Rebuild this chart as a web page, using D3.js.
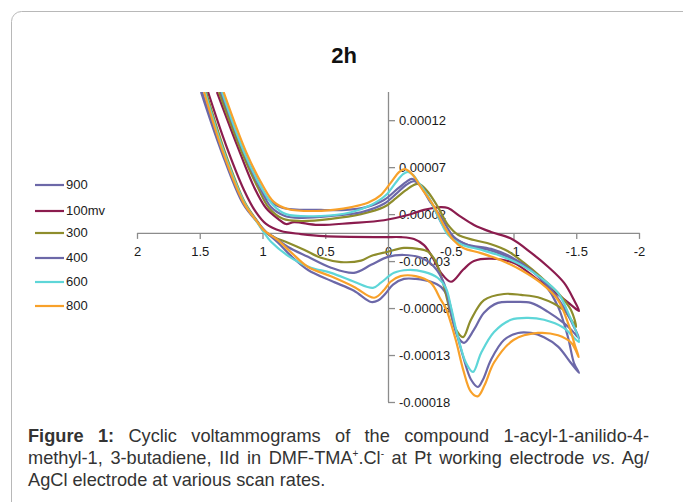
<!DOCTYPE html>
<html>
<head>
<meta charset="utf-8">
<script src="https://cdn.jsdelivr.net/npm/d3@7"></script>
<style>
body { margin: 0; background: #fff; }
#wrap { position: relative; width: 683px; height: 502px; overflow: hidden; }
#chart { position: absolute; left: 0; top: 0; }
#caption {
	position: absolute; left: 28px; top: 426px; width: 621px;
	font-family: "Liberation Sans", Arial, sans-serif; font-size: 18.2px; line-height: 21.8px;
	color: #333;
}
#caption div { white-space: nowrap; }
#caption .just { text-align: justify; text-align-last: justify; }
#caption sup { font-size: 10px; line-height: 0; }
</style>
</head>
<body>
<div id="wrap">
<svg id="chart" width="683" height="502"></svg>
<div id="caption">
	<div class="just"><b>Figure 1:</b> Cyclic voltammograms of the compound 1-acyl-1-anilido-4-</div>
	<div class="just">methyl-1, 3-butadiene, IId in DMF-TMA<sup>+</sup>.Cl<sup>-</sup> at Pt working electrode <i>vs</i>. Ag/</div>
	<div>AgCl electrode at various scan rates.</div>
</div>
</div>
<script>
// potential (V) vs current (in units of 1e-5 A), each loop traced forward then back
let s900 = [[1.339,15],[1.163,9.05],[1.028,5.3],[0.948,3.5],[0.837,2.65],[0.534,2.45],[0.335,2.45],[0.175,2.75],[0.032,3.5],[-0.064,4.55],[-0.143,5.4],[-0.191,5.75],[-0.247,5.2],[-0.327,3.5],[-0.422,1.7],[-0.526,-0.45],[-0.637,-1.3],[-0.797,-1.8],[-0.956,-2.55],[-1.116,-3.65],[-1.243,-5.35],[-1.355,-7.85],[-1.434,-11.1],[-1.482,-13.85],[-1.522,-14.9],
	[-1.458,-13.85],[-1.355,-12.1],[-1.243,-11.1],[-1.139,-10.65],[-1.036,-10.65],[-0.924,-11.4],[-0.821,-13.5],[-0.757,-15.6],[-0.717,-16.4],[-0.661,-15.6],[-0.606,-13.5],[-0.526,-9.6],[-0.478,-6.9],[-0.422,-5.75],[-0.343,-5.2],[-0.223,-4.9],[-0.127,-4.9],[-0.04,-5.5],[0.016,-6.4],[0.08,-7.2],[0.135,-7.35],[0.271,-6.15],[0.454,-5.1],[0.637,-3.95],[0.773,-2.45],[0.876,-1.05],[0.964,0],[1.028,0.95],[1.155,3.1],[1.331,8.8],[1.49,15]];
let s100 = [[1.363,15],[1.203,9.35],[1.068,4.9],[0.972,2.65],[0.876,1.5],[0.813,0.95],[0.749,1.15],[0.558,0.85],[0.295,1.05],[0.032,1.35],[-0.159,1.9],[-0.287,2.45],[-0.422,2.75],[-0.478,2.65],[-0.582,1.7],[-0.685,0.85],[-0.821,0.1],[-0.98,-0.6],[-1.139,-2.1],[-1.275,-3.6],[-1.402,-5.3],[-1.482,-7.15],[-1.522,-8.3],
	[-1.458,-7.65],[-1.378,-6.8],[-1.195,-5.0],[-1.004,-3.2],[-0.821,-2.75],[-0.685,-3.0],[-0.60,-3.9],[-0.502,-5.2],[-0.422,-4.25],[-0.367,-2.9],[-0.287,-1.3],[-0.207,-0.65],[-0.104,-0.45],[0.032,-0.45],[0.51,-0.35],[0.693,-0.12],[0.853,0.2],[0.972,0.95],[1.052,2.2],[1.147,4.55],[1.291,9.35],[1.434,15]];
let s300 = [[1.347,15],[1.171,8.8],[1.036,4.8],[0.948,2.65],[0.837,1.5],[0.693,1.27],[0.454,1.5],[0.215,2.0],[0.032,2.75],[-0.064,3.7],[-0.143,4.55],[-0.223,5.2],[-0.263,5.1],[-0.319,4.35],[-0.398,2.75],[-0.478,0.85],[-0.558,-0.2],[-0.685,-0.75],[-0.821,-1.2],[-0.956,-1.95],[-1.084,-3.2],[-1.219,-4.7],[-1.355,-6.4],[-1.458,-8.2],[-1.498,-10.0],
	[-1.45,-9.05],[-1.40,-8.2],[-1.219,-6.95],[-1.06,-6.6],[-0.924,-6.5],[-0.765,-7.15],[-0.661,-9.25],[-0.598,-11.1],[-0.542,-10.3],[-0.486,-7.85],[-0.438,-5.3],[-0.382,-3.1],[-0.319,-2.0],[-0.239,-1.7],[-0.127,-1.6],[0,-2.0],[0.135,-2.45],[0.215,-2.95],[0.375,-3.1],[0.534,-2.65],[0.669,-1.8],[0.797,-1.05],[0.908,-0.45],[0.988,0.2],[1.036,1.15],[1.139,3.2],[1.299,8.6],[1.45,15]];
let s400 = [[1.331,15],[1.155,8.8],[1.02,4.8],[0.932,2.75],[0.821,1.8],[0.693,1.6],[0.454,1.8],[0.215,2.2],[0.032,3.1],[-0.064,4.15],[-0.143,5.1],[-0.207,5.5],[-0.263,5.0],[-0.343,3.3],[-0.422,1.15],[-0.502,-0.35],[-0.622,-1.2],[-0.821,-1.7],[-0.98,-2.55],[-1.139,-3.95],[-1.283,-5.75],[-1.402,-7.95],[-1.474,-9.8],[-1.522,-11.2],
	[-1.46,-10.3],[-1.402,-9.6],[-1.275,-8.4],[-1.139,-7.45],[-1.004,-7.35],[-0.876,-7.45],[-0.765,-8.5],[-0.685,-10.3],[-0.606,-11.7],[-0.558,-11.1],[-0.502,-8.5],[-0.446,-5.35],[-0.367,-3.6],[-0.263,-2.65],[-0.127,-2.35],[0,-2.55],[0.135,-3.4],[0.271,-4.25],[0.454,-3.7],[0.637,-2.55],[0.797,-1.5],[0.908,-0.45],[0.996,0.3],[1.044,1.25],[1.155,3.3],[1.323,8.8],[1.482,15]];
let s600 = [[1.323,15],[1.147,8.6],[1.012,4.9],[0.916,2.97],[0.813,2.0],[0.534,1.8],[0.295,2.2],[0.135,2.97],[0.016,4.03],[-0.064,5.4],[-0.12,6.25],[-0.16,6.5],[-0.20,6.15],[-0.247,5.3],[-0.327,3.7],[-0.406,1.6],[-0.478,-0.2],[-0.582,-1.2],[-0.741,-1.8],[-0.90,-2.45],[-1.06,-3.4],[-1.22,-4.8],[-1.355,-6.4],[-1.442,-8.7],[-1.522,-11.6],
	[-1.46,-10.85],[-1.40,-10.1],[-1.243,-9.25],[-1.116,-9.05],[-0.98,-9.25],[-0.845,-10.55],[-0.741,-12.8],[-0.677,-14.8],[-0.622,-13.85],[-0.558,-11.1],[-0.502,-7.9],[-0.462,-5.9],[-0.398,-4.8],[-0.287,-4.15],[-0.159,-3.95],[-0.048,-4.25],[0.056,-5.3],[0.12,-5.85],[0.27,-5.2],[0.454,-4.25],[0.614,-3.7],[0.749,-2.85],[0.932,-0.95],[0.996,0.2],[1.044,1.15],[1.147,3.3],[1.307,8.6],[1.458,15]];
let s800 = [[1.31,15],[1.13,8.6],[1.00,5.1],[0.91,3.3],[0.80,2.55],[0.53,2.35],[0.29,2.75],[0.16,3.2],[0.06,4.0],[-0.02,5.3],[-0.09,6.5],[-0.135,6.8],[-0.20,6.15],[-0.26,4.9],[-0.37,2.75],[-0.45,0.65],[-0.52,-0.75],[-0.60,-1.6],[-0.74,-2.15],[-0.90,-2.9],[-1.06,-3.95],[-1.22,-5.35],[-1.355,-7.15],[-1.44,-9.8],[-1.49,-12.0],[-1.52,-13.2],
	[-1.46,-11.7],[-1.355,-10.9],[-1.195,-10.65],[-1.00,-11.4],[-0.845,-13.8],[-0.77,-16.2],[-0.715,-17.4],[-0.66,-16.9],[-0.60,-14.6],[-0.54,-11.4],[-0.46,-8.0],[-0.42,-7.1],[-0.34,-5.3],[-0.22,-4.6],[-0.10,-4.6],[-0.02,-5.2],[0.03,-6.05],[0.11,-6.9],[0.27,-5.75],[0.45,-4.65],[0.64,-3.6],[0.77,-2.1],[0.88,-0.75],[0.99,0.3],[1.04,1.15],[1.15,3.2],[1.315,8.6],[1.466,15]];

let seriesNames = ["900", "100mv", "300", "400", "600", "800"];
let seriesData = [s900, s100, s300, s400, s600, s800];
let seriesColors = ["#6c68a8", "#8b1c4e", "#8e8d2c", "#6c68a8", "#5ed6d8", "#f8a12a"];

let xTicks = [2, 1.5, 1, 0.5, 0, -0.5, -1, -1.5, -2];
let yTicks = [-18, -13, -8, -3, 2, 7, 12];

let svg = d3.select("#chart");
let font = "'Liberation Sans', Arial, sans-serif";

// card frame
svg.append("rect")
	.attr("x", 11.5).attr("y", 11.5)
	.attr("width", 800).attr("height", 600)
	.attr("rx", 10).attr("ry", 10)
	.attr("fill", "none")
	.attr("stroke", "#b8b8b8");

svg.append("text")
	.attr("x", 344).attr("y", 63)
	.attr("text-anchor", "middle")
	.attr("font-family", font)
	.attr("font-weight", "bold")
	.attr("font-size", 22)
	.attr("fill", "#111")
	.text("2h");

//scales
let x = d3.scaleLinear().domain([2, -2]).range([137, 639]);
let y = d3.scaleLinear().domain([-18, 15]).range([402, 92]);

//axes
let xAxis = svg.append("g")
	.attr("transform", "translate(0," + y(0) + ")")
	.call(d3.axisBottom(x).tickValues(xTicks).tickSize(6).tickSizeOuter(0).tickPadding(8)
		.tickFormat(d => String(d)));

let yAxis = svg.append("g")
	.attr("transform", "translate(" + x(0) + ",0)")
	.call(d3.axisRight(y).tickValues(yTicks).tickSize(7).tickSizeOuter(0).tickPadding(4)
		.tickFormat(d => (d / 1e5).toFixed(5)));

yAxis.select(".domain").attr("d", "M0.5," + y.range()[0] + "V" + y.range()[1]);

[xAxis, yAxis].forEach(a =>
{
	a.selectAll("path, line").attr("stroke", "#8c8c8c").attr("stroke-width", 1.3);
	a.selectAll("text").attr("font-family", font).attr("font-size", 13).attr("fill", "#1a1a1a");
});

//curves
svg.append("clipPath").attr("id", "plot")
	.append("rect").attr("x", 137).attr("y", 92).attr("width", 502).attr("height", 310);

let line = d3.line()
	.x(d => x(d[0]))
	.y(d => y(d[1]))
	.curve(d3.curveCatmullRom.alpha(0.5));

let g = svg.append("g").attr("clip-path", "url(#plot)");
for (let i = 0; i < seriesData.length; i++)
{
	g.append("path")
		.datum(seriesData[i])
		.attr("fill", "none")
		.attr("stroke", seriesColors[i])
		.attr("stroke-width", 2.2)
		.attr("stroke-linejoin", "round")
		.attr("d", line);
}

//legend
let legendY = [184, 210, 232, 257, 281, 305];
let legend = svg.append("g");
for (let i = 0; i < seriesNames.length; i++)
{
	legend.append("line")
		.attr("x1", 35).attr("x2", 64)
		.attr("y1", legendY[i] + 1).attr("y2", legendY[i] + 1)
		.attr("stroke", seriesColors[i])
		.attr("stroke-width", 2.2);
	legend.append("text")
		.attr("x", 66).attr("y", legendY[i])
		.attr("dy", "0.35em")
		.attr("font-family", font)
		.attr("font-size", 13)
		.attr("fill", "#1a1a1a")
		.text(seriesNames[i]);
}
</script>
</body>
</html>
